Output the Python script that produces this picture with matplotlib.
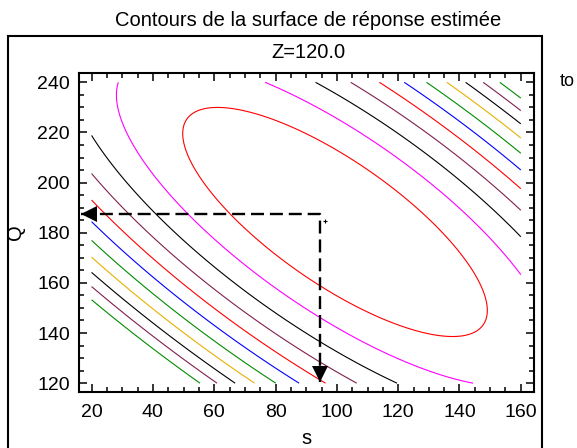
import numpy as np
import matplotlib
matplotlib.use("Agg")
import matplotlib.pyplot as plt
from matplotlib.ticker import MultipleLocator
from matplotlib.patches import Rectangle
from matplotlib.transforms import offset_copy

plt.rcParams['font.family'] = ['Liberation Sans', 'DejaVu Sans']

# ---- data ----
title = "Contours de la surface de réponse estimée"
subtitle = "Z=120.0"
x_label = "s"
y_label = "Q"
s_range = [20, 160]
Q_range = [120, 240]
x_ticks = [20, 40, 60, 80, 100, 120, 140, 160]
y_ticks = [120, 140, 160, 180, 200, 220, 240]

# estimated quadratic response surface (deviation from the stationary point)
center_s, center_Q = 99.4, 184.3
coef_ss, coef_sQ, coef_QQ = 1.0, 1.678, 1.182
contour_levels = [998, 2056, 3114, 4172, 5230, 6288, 7346, 8404, 9462, 10520, 11578]
contour_colors = ['#FF0000', '#FF00FF', '#000000', '#80204F', '#FF0000', '#0000FF',
                  '#008C00', '#E6B000', '#000000', '#80204F', '#008C00']

# optimum marked by the dashed arrows
opt_s, opt_Q = 94.5, 187.4
arrow_s_tip, arrow_Q_tip = 16.7, 120.6
marker_pt = (96.0, 184.8)

# ---- figure ----
W, H = 577, 448
fig = plt.figure(figsize=(W / 100, H / 100), dpi=100)
ax = fig.add_axes([79 / W, 1 - 391.7 / H, (534 - 79) / W, (391.7 - 73.3) / H])

s = np.linspace(s_range[0], s_range[1], 401)
Q = np.linspace(Q_range[0], Q_range[1], 401)
S, QQ = np.meshgrid(s, Q)
dS, dQ = S - center_s, QQ - center_Q
F = coef_ss * dS ** 2 + coef_sQ * dS * dQ + coef_QQ * dQ ** 2
ax.contour(S, QQ, F, levels=contour_levels, colors=contour_colors, linewidths=0.8)

ax.set_xlim(15.9, 164.3)
ax.set_ylim(116.6, 243.6)
ax.set_xticks(x_ticks)
ax.set_yticks(y_ticks)
ax.xaxis.set_minor_locator(MultipleLocator(5))
ax.yaxis.set_minor_locator(MultipleLocator(5))
ax.tick_params(which='both', direction='in', top=True, right=True, width=1.1,
               labelsize=14, colors='black')
ax.tick_params(which='major', length=6)
ax.tick_params(which='minor', length=3.5)
ax.tick_params(axis='y', pad=6.5)
ax.tick_params(axis='x', pad=8.5)
for sp in ax.spines.values():
    sp.set_linewidth(1.5)

# dashed guide lines with arrow heads
dash = (0, (5.5, 2.5))
ax.plot([arrow_s_tip, opt_s, opt_s], [opt_Q, opt_Q, arrow_Q_tip], color='black',
        lw=1.7, linestyle=dash, solid_joinstyle='miter', dash_capstyle='butt')
ms = 11
ax.plot([arrow_s_tip], [opt_Q], marker='<', ms=ms, color='black', mew=0,
        transform=offset_copy(ax.transData, fig, x=ms / 2, y=0, units='points'))
ax.plot([opt_s], [arrow_Q_tip], marker='v', ms=ms, color='black', mew=0,
        transform=offset_copy(ax.transData, fig, x=0, y=ms / 2, units='points'))
ax.plot([marker_pt[0]], [marker_pt[1]], marker='+', ms=3, color='black', mew=0.8)

# outer frame
fig.add_artist(Rectangle((8.3 / W, -0.05), (541.7 - 8.3) / W, 1.05 - 36 / H,
                         transform=fig.transFigure, fill=False, lw=1.5,
                         edgecolor='black', clip_on=False))

cx = 308 / W
fig.text(cx, 1 - 20 / H, title, ha='center', va='center', fontsize=14.5)
fig.text(cx, 1 - 52 / H, subtitle, ha='center', va='center', fontsize=14.5)
fig.text(15 / W, 1 - 232 / H, y_label, ha='center', va='center', rotation=90, fontsize=14.5)
fig.text(306.7 / W, 1 - 438.5 / H, x_label, ha='center', va='center', fontsize=14.5)
fig.text(560 / W, 1 - 82 / H, "to", ha='left', va='center', fontsize=13)

fig.savefig("out.png", dpi=100)
